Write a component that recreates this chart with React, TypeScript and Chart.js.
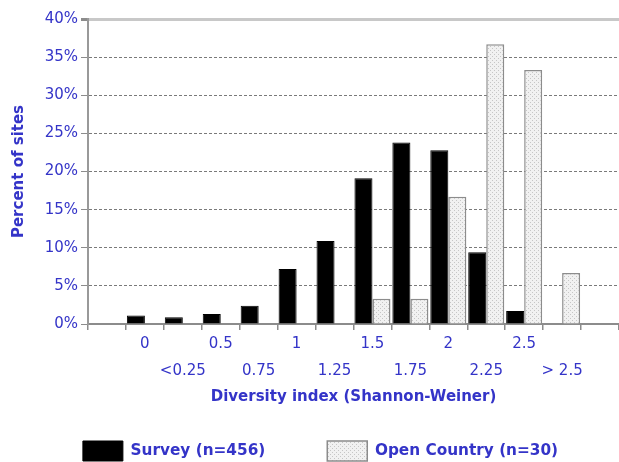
import React, { useEffect, useRef } from 'react';
import { Chart, registerables } from 'chart.js';

Chart.register(...registerables);

// ---- data ----
const categories = ['0', '<0.25', '0.5', '0.75', '1', '1.25', '1.5', '1.75', '2', '2.25', '2.5', '> 2.5'];
const surveyValues = [1.1, 0.9, 1.3, 2.4, 7.2, 10.9, 19.1, 23.8, 22.8, 9.4, 1.7, 0];
const openCountryValues = [0, 0, 0, 0, 0, 0, 3.3, 3.3, 16.7, 36.7, 33.3, 6.7];
const seriesNames = ['Survey (n=456)', 'Open Country (n=30)'];
const yTickValues = [0, 5, 10, 15, 20, 25, 30, 35, 40];
const xTitle = 'Diversity index (Shannon-Weiner)';
const yTitle = 'Percent of sites';

const BLUE = '#3434c8';
const GRAY = '#8c8c8c';
const FONT = 'DejaVu Sans';

const legendNudge = {
  id: 'legendNudge',
  afterLayout(chart: any) {
    const l = chart.legend;
    if (!l) return;
    l.top -= 27.5;
    l.left += 11;
    l.right += 11;
  },
};

export default function App() {
  const ref = useRef<HTMLCanvasElement | null>(null);

  useEffect(() => {
    const canvas = ref.current;
    if (!canvas) return;
    const ctx = canvas.getContext('2d')!;

    const pc = document.createElement('canvas');
    pc.width = 4;
    pc.height = 4;
    const g = pc.getContext('2d')!;
    g.fillStyle = '#f1f1f1';
    g.fillRect(0, 0, 4, 4);
    g.fillStyle = '#c6c6c6';
    g.fillRect(0, 0, 1, 1);
    g.fillRect(2, 2, 1, 1);
    const pattern = ctx.createPattern(pc, 'repeat')!;

    const labels: (string | string[])[] = [
      '',
      ...categories.map((c, i) => (i % 2 === 0 ? [c, ''] : ['', c])),
      '',
    ];
    const pad = (arr: number[]) => [null, ...arr.map((v) => (v === 0 ? null : v)), null];

    const chart = new Chart(canvas, {
      type: 'bar',
      data: {
        labels,
        datasets: [
          {
            label: seriesNames[0],
            data: pad(surveyValues) as any,
            backgroundColor: '#000000',
            borderColor: '#000000',
            borderWidth: 1,
          },
          {
            label: seriesNames[1],
            data: pad(openCountryValues) as any,
            backgroundColor: pattern as any,
            borderColor: GRAY,
            borderWidth: 1.5,
          },
        ],
      },
      options: {
        responsive: false,
        animation: false,
        layout: { padding: { top: 19, left: 0, right: 0, bottom: 0 } },
        datasets: { bar: { categoryPercentage: 0.95, barPercentage: 1.0 } },
        plugins: {
          tooltip: { enabled: false },
          legend: {
            position: 'bottom',
            maxHeight: 55.5,
            labels: {
              boxWidth: 40,
              boxHeight: 20,
              padding: 62,
              color: BLUE,
              font: { family: FONT, size: 15.3, weight: 'bold' },
            },
          },
        },
        scales: {
          x: {
            type: 'category',
            grid: {
              offset: true,
              drawOnChartArea: false,
              tickLength: 6,
              color: GRAY,
              lineWidth: 1.5,
            },
            border: { color: GRAY, width: 2 },
            ticks: {
              autoSkip: false,
              maxRotation: 0,
              minRotation: 0,
              padding: 1,
              color: BLUE,
              font: { family: FONT, size: 15, lineHeight: 1.8 },
            },
            title: {
              display: true,
              text: xTitle,
              color: BLUE,
              font: { family: FONT, size: 15, weight: 'bold', lineHeight: 1.2 },
              padding: { top: 2.5, bottom: 0 },
            },
          },
          y: {
            min: 0,
            max: 40,
            afterFit: (scale: any) => {
              scale.width = 88;
            },
            afterBuildTicks: (scale: any) => {
              scale.ticks = yTickValues.map((v) => ({ value: v }));
            },
            grid: {
              tickLength: 7,
              tickColor: GRAY,
              color: (c: any) =>
                c.tick && c.tick.value === 40 ? '#c8c8c8' : c.tick && c.tick.value === 0 ? 'rgba(0,0,0,0)' : '#7a7a7a',
              lineWidth: (c: any) => (c.tick && c.tick.value === 40 ? 3 : 1),
            },
            border: {
              color: '#999999',
              width: 2,
              dash: (c: any) => (c.tick && c.tick.value === 40 ? [] : [3, 2]),
            } as any,
            ticks: {
              padding: 3,
              color: BLUE,
              font: { family: FONT, size: 15 },
              callback: (v: any) => `${v}%`,
            },
            title: {
              display: true,
              text: yTitle,
              color: BLUE,
              font: { family: FONT, size: 15, weight: 'bold', lineHeight: 1.2 },
              padding: { top: 10, bottom: 0 },
            },
          },
        },
      } as any,
      plugins: [legendNudge],
    });

    return () => chart.destroy();
  }, []);

  return (
    <div style={{ position: 'absolute', left: 0, top: 0, width: 619, height: 462, background: '#fff' }}>
      <canvas ref={ref} width={619} height={462} style={{ display: 'block' }} />
    </div>
  );
}
